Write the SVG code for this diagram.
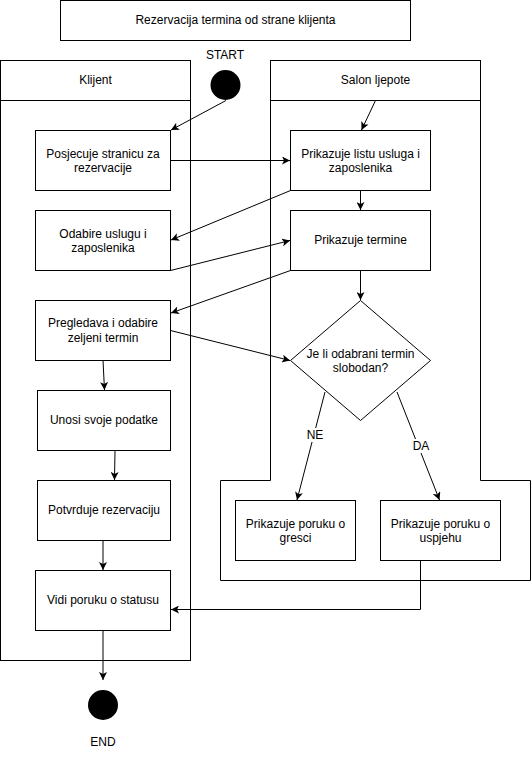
<svg xmlns="http://www.w3.org/2000/svg" width="532" height="759" viewBox="0 0 532 759">
<style>
  .box { fill: #fff; stroke: #000; stroke-width: 1; }
  .lane { fill: none; stroke: #000; stroke-width: 1; }
  .t { font-family: "Liberation Sans", Arial, sans-serif; font-size: 12px; fill: #000; text-anchor: middle; }
  .c { fill: none; stroke: #000; stroke-width: 1; marker-end: url(#arr); }
  .dot { fill: #000; }
</style>
<defs>
  <marker id="arr" markerUnits="userSpaceOnUse" viewBox="0 0 8 8" refX="8" refY="4" markerWidth="8" markerHeight="8" orient="auto">
    <path d="M0,0 L8,4 L0,8 L2,4 z" fill="#000"/>
  </marker>
</defs>
<rect width="532" height="759" fill="#fff"/>

<g id="title">
  <rect class="box" x="60.5" y="0.5" width="350" height="40"/>
  <text class="t" x="235.5" y="24">Rezervacija termina od strane klijenta</text>
</g>

<g id="lane-klijent">
  <rect class="lane" x="0.5" y="60.5" width="190" height="600"/>
  <line class="lane" x1="0.5" y1="100.5" x2="190.5" y2="100.5"/>
  <text class="t" x="95.5" y="84">Klijent</text>
</g>

<g id="lane-salon">
  <rect class="lane" x="270.5" y="60.5" width="210" height="40"/>
  <path class="lane" d="M270.5,100.5 V480.5 H220.5 V580.5 H530.5 V480.5 H480.5 V100.5"/>
  <text class="t" x="375.5" y="84">Salon ljepote</text>
</g>

<g id="start">
  <text class="t" x="225" y="59">START</text>
  <circle class="dot" cx="225.5" cy="85" r="15"/>
</g>

<g id="n1">
  <rect class="box" x="35.5" y="130.5" width="135" height="60"/>
  <text class="t" x="103" y="158">Posjecuje stranicu za</text>
  <text class="t" x="103" y="172">rezervacije</text>
</g>
<g id="n2">
  <rect class="box" x="35.5" y="210.5" width="135" height="60"/>
  <text class="t" x="103" y="238">Odabire uslugu i</text>
  <text class="t" x="103" y="252">zaposlenika</text>
</g>
<g id="n3">
  <rect class="box" x="35.5" y="300.5" width="135" height="60"/>
  <text class="t" x="103" y="327">Pregledava i odabire</text>
  <text class="t" x="103" y="342">zeljeni termin</text>
</g>
<g id="n4">
  <rect class="box" x="37.5" y="390.5" width="133" height="60"/>
  <text class="t" x="104" y="424">Unosi svoje podatke</text>
</g>
<g id="n5">
  <rect class="box" x="37.5" y="480.5" width="133" height="60"/>
  <text class="t" x="104" y="514">Potvrduje rezervaciju</text>
</g>
<g id="n6">
  <rect class="box" x="35.5" y="570.5" width="135" height="60"/>
  <text class="t" x="103" y="604">Vidi poruku o statusu</text>
</g>

<g id="s1">
  <rect class="box" x="290.5" y="130.5" width="140" height="60"/>
  <text class="t" x="360.5" y="158">Prikazuje listu usluga i</text>
  <text class="t" x="360.5" y="172">zaposlenika</text>
</g>
<g id="s2">
  <rect class="box" x="290.5" y="210.5" width="140" height="60"/>
  <text class="t" x="360.5" y="244">Prikazuje termine</text>
</g>
<g id="decision">
  <path class="box" d="M360.5,300.5 L430.5,360.5 L360.5,420.5 L290.5,360.5 Z"/>
  <text class="t" x="360.5" y="357.5">Je li odabrani termin</text>
  <text class="t" x="360.5" y="372">slobodan?</text>
</g>
<g id="s3">
  <rect class="box" x="235.5" y="500.5" width="120" height="60"/>
  <text class="t" x="295.5" y="528">Prikazuje poruku o</text>
  <text class="t" x="295.5" y="542">gresci</text>
</g>
<g id="s4">
  <rect class="box" x="380.5" y="500.5" width="120" height="60"/>
  <text class="t" x="440.5" y="528">Prikazuje poruku o</text>
  <text class="t" x="440.5" y="542">uspjehu</text>
</g>

<g id="end">
  <circle class="dot" cx="103" cy="705" r="15"/>
  <text class="t" x="103" y="746">END</text>
</g>

<g id="connectors">
  <line class="c" x1="226" y1="100.5" x2="171" y2="130"/>
  <line class="c" x1="170.5" y1="160.5" x2="290" y2="160.5"/>
  <line class="c" x1="375.5" y1="100.5" x2="361.5" y2="130"/>
  <line class="c" x1="360.5" y1="190.5" x2="360.5" y2="210"/>
  <line class="c" x1="290.5" y1="190.5" x2="171" y2="240"/>
  <line class="c" x1="170.5" y1="270.5" x2="290" y2="240.5"/>
  <line class="c" x1="290.5" y1="270.5" x2="171" y2="313"/>
  <line class="c" x1="360.5" y1="270.5" x2="360.5" y2="300"/>
  <line class="c" x1="170.5" y1="330.5" x2="290" y2="360.5"/>
  <line class="c" x1="103" y1="360.5" x2="104.5" y2="390"/>
  <line class="c" x1="115" y1="450.5" x2="114.5" y2="480"/>
  <line class="c" x1="103" y1="540.5" x2="103" y2="570"/>
  <line class="c" x1="103" y1="630.5" x2="103" y2="680"/>
  <line class="c" x1="325" y1="392" x2="297" y2="500"/>
  <line class="c" x1="397" y1="392" x2="439.5" y2="500"/>
  <polyline class="c" points="420.5,560.5 420.5,609.5 171,609.5"/>
  <rect x="306" y="428" width="18" height="14" fill="#fff"/>
  <text class="t" x="315" y="439">NE</text>
  <rect x="412" y="439" width="18" height="14" fill="#fff"/>
  <text class="t" x="421" y="450">DA</text>
</g>
</svg>
